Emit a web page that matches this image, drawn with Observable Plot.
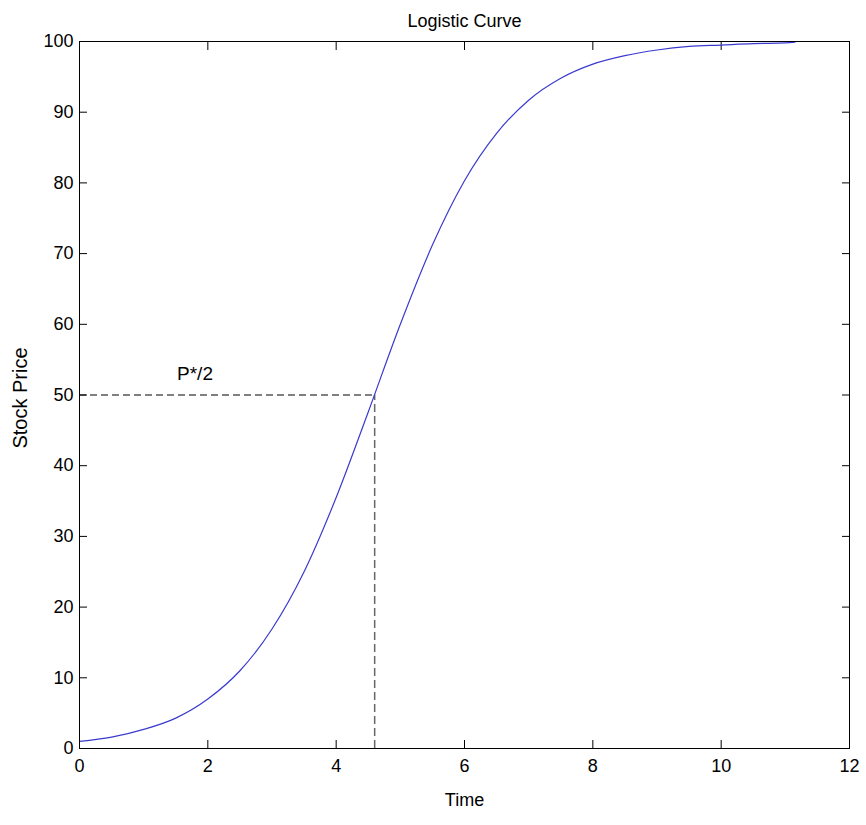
<!DOCTYPE html>
<html>
<head>
<meta charset="utf-8">
<script src="https://cdn.jsdelivr.net/npm/d3@7"></script>
<script src="https://cdn.jsdelivr.net/npm/@observablehq/plot@0.6"></script>
<style>
  html, body { margin: 0; padding: 0; background: #fff; }
  svg { font-family: Arial, "Liberation Sans", sans-serif; }
</style>
</head>
<body>
<div id="chart"></div>
<script>
// Data
const time  = [0, 0.5, 1, 1.5, 2, 2.5, 3, 3.5, 4, 4.5, 5, 5.5, 6, 6.5, 7, 7.5, 8, 8.5, 9, 9.5, 10, 10.5, 11, 11.15];
const price = [1.0, 1.6, 2.7, 4.3, 7.0, 11.0, 16.9, 25.0, 35.5, 47.6, 60.0, 71.2, 80.3, 87.0, 91.7, 94.8, 96.8, 98.0, 98.8, 99.3, 99.5, 99.7, 99.8, 99.9];
const halfTime = 4.6;
const halfPrice = 50;
const halfLabel = "P*/2";
const halfLabelPos = {x: 1.8, y: 53};
const xTicks = [0, 2, 4, 6, 8, 10, 12];
const yTicks = [0, 10, 20, 30, 40, 50, 60, 70, 80, 90, 100];
const innerXTicks = [2, 4, 6, 8, 10];
const innerYTicks = [10, 20, 30, 40, 50, 60, 70, 80, 90];
const titleText = "Logistic Curve";
const xLabel = "Time";
const yLabel = "Stock Price";

const curve = time.map((t, i) => ({t, p: price[i]}));

const chart = Plot.plot({
  width: 866,
  height: 825,
  marginLeft: 79,
  marginRight: 17,
  marginTop: 41,
  marginBottom: 77,
  style: {fontSize: "18px", fontFamily: "Arial, 'Liberation Sans', sans-serif", color: "#000", background: "#fff"},
  x: {domain: [0, 12]},
  y: {domain: [0, 100]},
  marks: [
    // tick labels
    Plot.axisX(xTicks, {anchor: "bottom", tickSize: 0, tickPadding: 11, label: null, fontSize: 18}),
    Plot.axisY(yTicks, {anchor: "left", tickSize: 0, tickPadding: 6, label: null, fontSize: 18}),
    // inward ticks on all four sides
    Plot.axisX(innerXTicks, {anchor: "bottom", tickSize: -8, text: null, label: null}),
    Plot.axisX(innerXTicks, {anchor: "top", tickSize: -8, text: null, label: null}),
    Plot.axisY(innerYTicks, {anchor: "left", tickSize: -8, text: null, label: null}),
    Plot.axisY(innerYTicks, {anchor: "right", tickSize: -8, text: null, label: null}),
    // dashed guide lines
    Plot.ruleY([halfPrice], {x1: 0, x2: halfTime, stroke: "#000", strokeDasharray: "7,4", strokeWidth: 1}),
    Plot.ruleX([halfTime], {y1: 0, y2: halfPrice, stroke: "#666", strokeDasharray: "8,4", strokeWidth: 1.5}),
    // the logistic curve
    Plot.line(curve, {x: "t", y: "p", stroke: "#3a3ad0", strokeWidth: 1.2, curve: "monotone-x"}),
    // annotation
    Plot.text([halfLabel], {x: halfLabelPos.x, y: halfLabelPos.y, text: d => d, fontSize: 19, fill: "#000"}),
    // frame
    Plot.frame({stroke: "#000", strokeWidth: 1}),
    // title and axis labels
    Plot.text([titleText], {frameAnchor: "top", dy: -27, text: d => d, fontSize: 18, fill: "#000"}),
    Plot.text([xLabel], {frameAnchor: "bottom", dy: 57, text: d => d, fontSize: 18, fill: "#000"}),
    Plot.text([yLabel], {frameAnchor: "left", dx: -59, dy: 3, rotate: -90, textAnchor: "middle", text: d => d, fontSize: 20, fill: "#000"})
  ]
});
document.getElementById("chart").appendChild(chart);
</script>
</body>
</html>
